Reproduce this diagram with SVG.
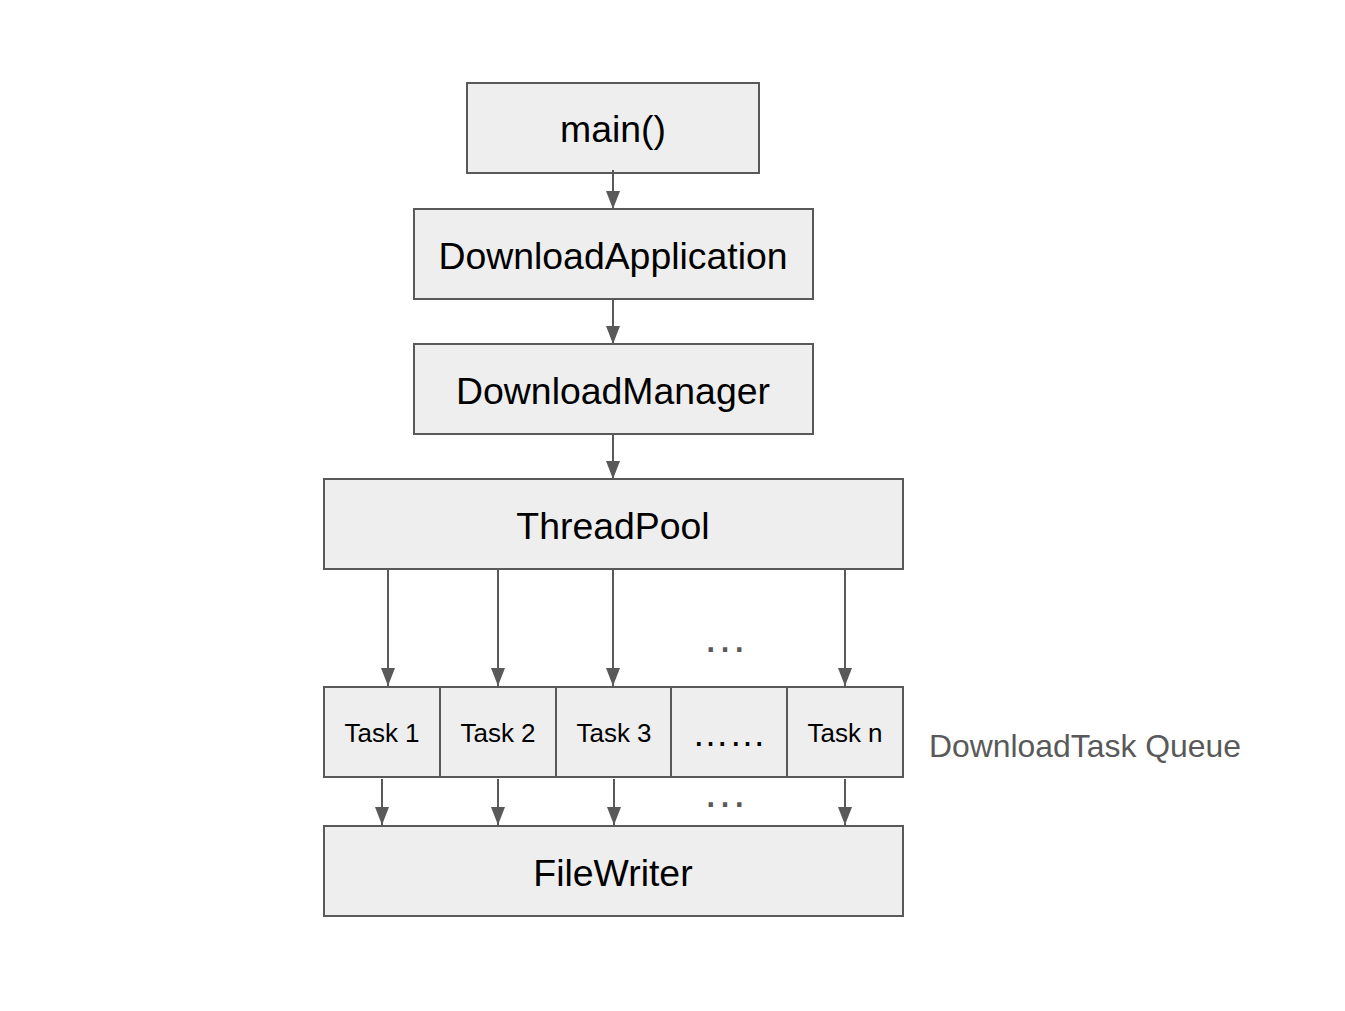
<svg xmlns="http://www.w3.org/2000/svg" width="1345" height="1011" viewBox="0 0 1345 1011">
<style>
.box{fill:#eeeeee;stroke:#595959;stroke-width:2}
.t{font-family:"Liberation Sans",Arial,sans-serif;fill:#000;text-anchor:middle}
.big{font-size:37.4px}
.small{font-size:26px}
.gray{fill:#595959}
.edge{stroke:#595959;stroke-width:2;fill:none;marker-end:url(#ah)}
</style>
<defs>
<marker id="ah" markerUnits="userSpaceOnUse" markerWidth="18" markerHeight="14" refX="18" refY="7" orient="auto" viewBox="0 0 18 14">
<path d="M0,0 L18,7 L0,14 Z" fill="#595959"/>
</marker>
</defs>
<rect width="1345" height="1011" fill="#fff"/>
<g id="main"><rect class="box" x="467" y="83" width="292" height="90"/><text class="t big" x="613" y="142">main()</text></g>
<g id="downloadapplication"><rect class="box" x="414" y="209" width="399" height="90"/><text class="t big" x="613" y="269">DownloadApplication</text></g>
<g id="downloadmanager"><rect class="box" x="414" y="344" width="399" height="90"/><text class="t big" x="613" y="404">DownloadManager</text></g>
<g id="threadpool"><rect class="box" x="324" y="479" width="579" height="90"/><text class="t big" x="613" y="539">ThreadPool</text></g>
<g id="task1"><rect class="box" x="324" y="687" width="116" height="90"/><text class="t small" x="382" y="742">Task 1</text></g>
<g id="task2"><rect class="box" x="440" y="687" width="116" height="90"/><text class="t small" x="498" y="742">Task 2</text></g>
<g id="task3"><rect class="box" x="556" y="687" width="115" height="90"/><text class="t small" x="614" y="742">Task 3</text></g>
<g id="taskdots"><rect class="box" x="671" y="687" width="116" height="90"/><text class="t" style="font-size:37px" x="729" y="746">……</text></g>
<g id="taskn"><rect class="box" x="787" y="687" width="116" height="90"/><text class="t small" x="845" y="742">Task n</text></g>
<g id="filewriter"><rect class="box" x="324" y="826" width="579" height="90"/><text class="t big" x="613" y="886">FileWriter</text></g>
<g id="queue-label"><text class="t gray" style="font-size:31.9px;text-anchor:start" x="929" y="757">DownloadTask Queue</text></g>
<g id="ellipses">
<text class="t gray" style="font-size:45px" x="725" y="652">…</text>
<text class="t gray" style="font-size:45px" x="725" y="807">…</text>
</g>
<g id="connectors">
<line class="edge" x1="613" y1="170" x2="613" y2="209"/>
<line class="edge" x1="613" y1="299" x2="613" y2="344"/>
<line class="edge" x1="613" y1="434" x2="613" y2="479"/>
<line class="edge" x1="388" y1="569" x2="388" y2="686"/>
<line class="edge" x1="498" y1="569" x2="498" y2="686"/>
<line class="edge" x1="613" y1="569" x2="613" y2="686"/>
<line class="edge" x1="845" y1="569" x2="845" y2="686"/>
<line class="edge" x1="382" y1="779" x2="382" y2="825"/>
<line class="edge" x1="498" y1="779" x2="498" y2="825"/>
<line class="edge" x1="614" y1="779" x2="614" y2="825"/>
<line class="edge" x1="845" y1="779" x2="845" y2="825"/>
</g>
</svg>
